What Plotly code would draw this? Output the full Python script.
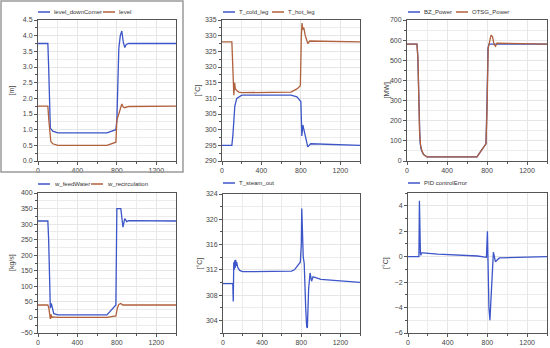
import plotly.graph_objects as go

# ---------------- data ----------------
t_level = [0, 100, 108, 118, 125, 150, 200, 700, 790, 800, 810, 820, 835, 850, 865, 880, 895, 920, 1400]
level_downComer = [3.75, 3.75, 3.0, 1.5, 1.05, 0.95, 0.9, 0.9, 1.0, 1.3, 3.0, 3.6, 4.0, 4.15, 3.8, 3.62, 3.72, 3.75, 3.75]
t_level2 = [0, 100, 110, 120, 130, 150, 200, 700, 790, 800, 820, 835, 850, 865, 880, 920, 1400]
level = [1.75, 1.75, 1.3, 0.8, 0.62, 0.55, 0.5, 0.5, 0.6, 1.3, 1.5, 1.7, 1.82, 1.72, 1.7, 1.74, 1.75]

t_cold = [0, 100, 110, 120, 130, 150, 200, 700, 760, 800, 805, 810, 820, 830, 840, 860, 870, 900, 1400]
T_cold_leg = [295, 295, 298, 304, 307.5, 310, 311, 311, 310.5, 309, 304, 298, 301.5, 300, 298, 295, 294.5, 295.5, 295]
t_hot = [0, 100, 112, 120, 128, 135, 150, 170, 200, 700, 760, 795, 805, 812, 820, 830, 845, 860, 870, 890, 1400]
T_hot_leg = [328, 328, 318, 311, 315, 313, 312.5, 312, 311.8, 312, 313, 314, 330, 334, 332, 332.5, 330, 328, 327.5, 328.3, 328]

t_pow = [0, 100, 108, 115, 122, 130, 140, 160, 200, 700, 740, 790, 800, 810, 820, 1400]
BZ_Power = [580, 580, 520, 400, 220, 100, 60, 35, 20, 20, 50, 85, 300, 560, 580, 580]
t_otsg = [0, 100, 110, 118, 125, 135, 150, 170, 200, 700, 740, 790, 800, 812, 825, 840, 855, 870, 885, 900, 1400]
OTSG_Power = [580, 580, 500, 300, 150, 80, 50, 30, 20, 20, 50, 85, 250, 560, 590, 625, 618, 580, 570, 585, 580]

t_fw = [0, 100, 108, 118, 125, 135, 145, 160, 200, 700, 790, 800, 840, 850, 862, 880, 900, 920, 1400]
w_feedWater = [310, 310, 250, 100, 30, 45, 30, 12, 8, 8, 40, 350, 350, 320, 290, 318, 308, 311, 310]
t_rc = [0, 100, 110, 118, 125, 132, 140, 150, 200, 700, 790, 805, 820, 840, 860, 880, 1400]
w_recirculation = [40, 40, 30, 5, -5, 10, 0, 2, 0, 0, 5, 30, 42, 45, 40, 40, 40]

t_st = [0, 100, 105, 110, 115, 120, 125, 130, 135, 140, 150, 170, 200, 700, 730, 790, 800, 805, 812, 820, 830, 836, 845, 855, 862, 875, 890, 905, 920, 940, 1000, 1400]
T_steam_out = [309.8, 309.8, 307, 313.2, 312, 313.5, 312.3, 313.6, 312.6, 313.2, 312.4, 311.9, 311.7, 311.8, 312, 313.2, 316, 321.7, 318, 314, 313, 309, 306, 303, 302.8, 309, 311.5, 310.2, 310.9, 310.8, 310.5, 310]

t_pid = [0, 110, 115, 120, 125, 130, 135, 150, 300, 700, 790, 800, 805, 815, 825, 835, 845, 860, 870, 880, 920, 1400]
PID_controlError = [0, 0, 4.4, 1.0, 0.3, 0.1, 0.3, 0.3, 0.2, 0.05, -0.05, 2.0, -1.0, -4.0, -5.0, -3.5, -1.5, 0.35, 0.0, -0.4, -0.1, 0.0]

x_range = [0, 1400]
x_ticks = [0, 400, 800, 1200]

BLUE = "#3c55c8"
BROWN = "#b0603c"
W, H = 550, 348
FONT = "Liberation Sans, Arial, sans-serif"

# plot-area pixel boxes (x0, x1, y0, y1), legend row y, legend entry x positions, y-title x
panels = [
    dict(px=(38, 176, 20, 161), yr=[0, 4.5], dt=0.5, fmt=".1f", title="[m]", tx=11, ly=12,
         series=[(t_level, level_downComer, "level_downComer", BLUE, 38),
                 (t_level2, level, "level", BROWN, 103)]),
    dict(px=(222, 360, 20, 161), yr=[290, 335], dt=5, fmt="d", title="[°C]", tx=197, ly=12,
         series=[(t_cold, T_cold_leg, "T_cold_leg", BLUE, 223),
                 (t_hot, T_hot_leg, "T_hot_leg", BROWN, 272)]),
    dict(px=(407, 547, 20, 161), yr=[0, 700], dt=100, fmt="d", title="[MW]", tx=386, ly=12,
         series=[(t_pow, BZ_Power, "BZ_Power", BLUE, 408),
                 (t_otsg, OTSG_Power, "OTSG_Power", BROWN, 456)]),
    dict(px=(38, 176, 193, 333), yr=[-50, 400], dt=50, fmt="d", title="[kg/s]", tx=12, ly=184,
         series=[(t_fw, w_feedWater, "w_feedWater", BLUE, 38),
                 (t_rc, w_recirculation, "w_recirculation", BROWN, 91)]),
    dict(px=(223, 360, 194, 333), yr=[302, 324], dt=4, fmt="d", title="[°C]", tx=199, ly=183,
         series=[(t_st, T_steam_out, "T_steam_out", BLUE, 223)]),
    dict(px=(408, 547, 193, 333), yr=[-6, 5], dt=2, fmt="d", title="[°C]", tx=386, ly=183,
         series=[(t_pid, PID_controlError, "PID controlError", BLUE, 408)]),
]

fig = go.Figure()
layout = {}
shapes = []
annotations = []
tick_font = dict(size=7, color="#444444", family=FONT)

def px_x(x):
    return x / W

def px_y(y):
    return 1 - y / H

for i, p in enumerate(panels):
    n = i + 1
    xa = "x" if n == 1 else f"x{n}"
    ya = "y" if n == 1 else f"y{n}"
    x0, x1, y0, y1 = p["px"]
    xd = [px_x(x0), px_x(x1)]
    yd = [px_y(y1), px_y(y0)]
    for (tx, vy, name, col, lx) in p["series"]:
        fig.add_trace(go.Scatter(x=tx, y=vy, name=name, mode="lines",
                                 line=dict(color=col, width=1.3),
                                 xaxis=xa, yaxis=ya, showlegend=False))
        # legend entry
        shapes.append(dict(type="line", xref="paper", yref="paper",
                           x0=px_x(lx), x1=px_x(lx + 12), y0=px_y(p["ly"]), y1=px_y(p["ly"]),
                           line=dict(color=col, width=1.5)))
        annotations.append(dict(text=name, xref="paper", yref="paper", x=px_x(lx + 14),
                                y=px_y(p["ly"]), xanchor="left", yanchor="middle", showarrow=False,
                                font=dict(size=6, color="#333333", family=FONT)))
    annotations.append(dict(text=p["title"], xref="paper", yref="paper", x=px_x(p["tx"]),
                            y=(yd[0] + yd[1]) / 2, xanchor="center", yanchor="middle",
                            textangle=-90, showarrow=False,
                            font=dict(size=7, color="#444444", family=FONT)))
    axkey_x = "xaxis" if n == 1 else f"xaxis{n}"
    axkey_y = "yaxis" if n == 1 else f"yaxis{n}"
    layout[axkey_x] = dict(domain=xd, anchor=ya, range=x_range, tickvals=x_ticks,
                           automargin=False,
                           showgrid=True, gridcolor="#e6e6e6", gridwidth=1,
                           minor=dict(dtick=200, tick0=0, showgrid=True, gridcolor="#ececec",
                                      ticks="outside", ticklen=2, tickcolor="#555555"),
                           showline=True, linecolor="#555555", linewidth=1, mirror=True,
                           ticks="outside", ticklen=3, tickcolor="#555555",
                           tickfont=tick_font, zeroline=False)
    layout[axkey_y] = dict(domain=yd, anchor=xa, range=p["yr"], dtick=p["dt"], tick0=0,
                           tickformat=p["fmt"], automargin=False,
                           showgrid=True, gridcolor="#e6e6e6", gridwidth=1,
                           minor=dict(dtick=p["dt"] / 2, tick0=0, showgrid=True, gridcolor="#ececec",
                                      ticks="outside", ticklen=2, tickcolor="#555555"),
                           showline=True, linecolor="#555555", linewidth=1, mirror=True,
                           ticks="outside", ticklen=3, tickcolor="#555555",
                           tickfont=tick_font, zeroline=False)

shapes.append(dict(type="rect", xref="paper", yref="paper", x0=px_x(1), x1=px_x(183),
                   y0=px_y(172), y1=px_y(1), line=dict(color="#9a9a9a", width=1.5)))

fig.update_layout(**layout)
fig.update_layout(
    width=W, height=H,
    margin=dict(l=0, r=0, t=0, b=0, autoexpand=False),
    paper_bgcolor="white", plot_bgcolor="white",
    showlegend=False,
    font=dict(family=FONT, size=7, color="#444444"),
    shapes=shapes,
    annotations=annotations,
)

fig.write_html("out.html",
               config={"displayModeBar": False},
               post_script="document.body.style.margin='0';document.body.style.padding='0';"
                           "document.body.style.overflow='hidden';")
